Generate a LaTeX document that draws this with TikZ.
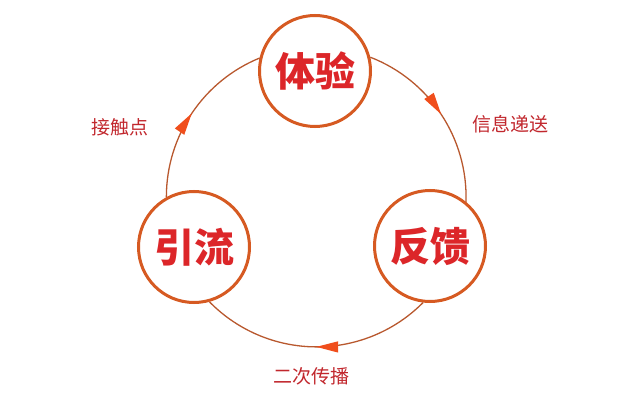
\documentclass[tikz,border=0pt]{standalone}
\usepackage{fontspec}
\usepackage{xcolor}
\usetikzlibrary{arrows.meta, decorations.markings, calc}
\newfontfamily\cjk{Noto Sans CJK SC}
\definecolor{ringline}{HTML}{B8582E}
\definecolor{nodeedge}{HTML}{D65A22}
\definecolor{nodetext}{HTML}{DC2629}
\definecolor{tagtext}{HTML}{C1272D}
\definecolor{arrowfill}{HTML}{F04E1C}

\begin{document}
\begin{tikzpicture}[x=1pt, y=1pt,
    stage/.style={circle, draw=nodeedge, line width=3pt, fill=white, minimum size=111pt,
        inner sep=0pt, text=nodetext, font=\cjk\bfseries\fontsize{40}{40}\selectfont},
    tag/.style={text=tagtext, font=\cjk\fontsize{19}{19}\selectfont},
    link/.style={draw=ringline, line width=1.3pt, postaction={decorate},
        decoration={markings, mark=at position 0.5 with
            {\arrow{Triangle[length=22pt, width=11pt, color=arrowfill]}}}}]
    \useasboundingbox (0,0) rectangle (632,405);
    \node[stage] (tiyan) at (315,334) {体验};
    \node[stage] (fankui) at (430,159) {反馈};
    \node[stage] (yinliu) at (194,158) {引流};
    % ring of arcs, centre (316,208), radius 150
    \draw[link] (tiyan.14) arc[start angle=68.8, end angle=-1.8, radius=150];
    \draw[link] (fankui.-97.5) arc[start angle=315.2, end angle=224.5, radius=150];
    \draw[link] (yinliu.119.4) arc[start angle=180.1, end angle=112.2, radius=150];
    \node[tag] (xinxi) at (510,281) {信息递送};
    \node[tag] (erci) at (311,29) {二次传播};
    \node[tag] (jiechu) at (120,278) {接触点};
\end{tikzpicture}
\end{document}
